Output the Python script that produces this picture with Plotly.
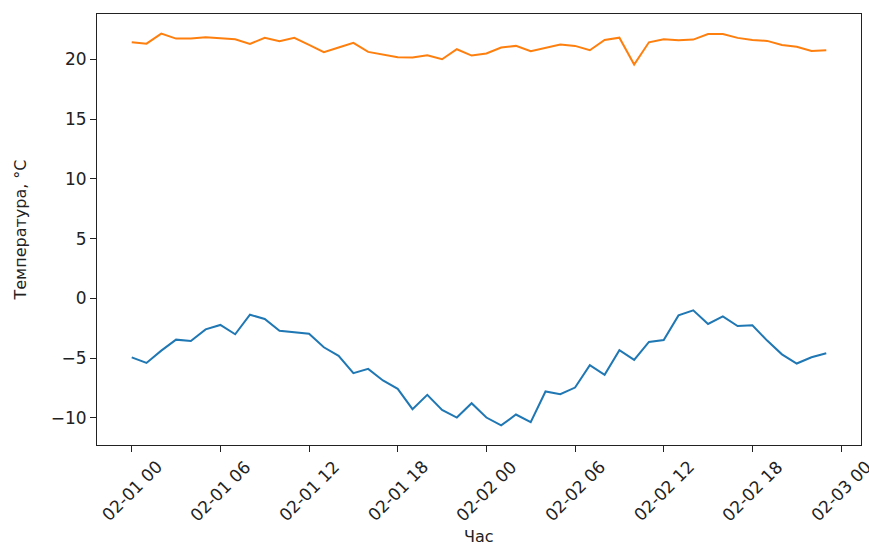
import pandas as pd
import plotly.graph_objects as go

# Hourly timestamps, 1–2 February
hours = pd.date_range("2024-02-01 00:00", periods=48, freq="h")

# Outdoor temperature, °C
outdoor = [-4.93, -5.40, -4.37, -3.45, -3.56, -2.59, -2.22, -3.00, -1.36, -1.72,
           -2.70, -2.84, -2.95, -4.09, -4.81, -6.26, -5.90, -6.87, -7.57, -9.27,
           -8.07, -9.33, -9.97, -8.77, -9.97, -10.63, -9.72, -10.36, -7.79, -8.02,
           -7.46, -5.59, -6.40, -4.34, -5.15, -3.64, -3.48, -1.42, -1.00, -2.14,
           -1.50, -2.31, -2.25, -3.53, -4.68, -5.45, -4.93, -4.59]

# Indoor temperature, °C
indoor = [21.44, 21.33, 22.17, 21.75, 21.75, 21.86, 21.78, 21.70, 21.31, 21.81,
          21.53, 21.81, 21.22, 20.61, 21.00, 21.39, 20.64, 20.41, 20.19, 20.16,
          20.36, 20.02, 20.86, 20.33, 20.50, 21.00, 21.14, 20.69, 21.00, 21.25,
          21.14, 20.78, 21.64, 21.83, 19.58, 21.44, 21.70, 21.61, 21.67, 22.14,
          22.14, 21.81, 21.64, 21.56, 21.22, 21.06, 20.72, 20.78]

# X tick positions and their labels
tick_times = pd.date_range("2024-02-01 00:00", "2024-02-03 00:00", freq="6h")
tick_labels = [t.strftime("%m-%d %H") for t in tick_times]

y_ticks = [-10, -5, 0, 5, 10, 15, 20]

FONT = "DejaVu Sans"
FSIZE = 17
BLUE = "#1f77b4"
ORANGE = "#ff7f0e"

fig = go.Figure()
fig.add_trace(go.Scatter(x=hours, y=outdoor, mode="lines",
                         line=dict(color=BLUE, width=2), showlegend=False))
fig.add_trace(go.Scatter(x=hours, y=indoor, mode="lines",
                         line=dict(color=ORANGE, width=2), showlegend=False))

# 5 % padding on each side, like matplotlib's default margins
span = hours[-1] - hours[0]
pad = span * 0.05
ymin, ymax = min(outdoor + indoor), max(outdoor + indoor)
ypad = (ymax - ymin) * 0.05

axis_common = dict(showline=True, linecolor="#222222", linewidth=1, mirror=True,
                   ticks="outside", ticklen=6, tickwidth=1, tickcolor="#222222",
                   showgrid=False, zeroline=False,
                   tickfont=dict(family=FONT, size=FSIZE, color="#222222"))

fig.update_xaxes(range=[hours[0] - pad, hours[-1] + pad], tickvals=tick_times,
                 showticklabels=False, **axis_common)
fig.update_yaxes(range=[ymin - ypad, ymax + ypad], tickvals=y_ticks,
                 title=dict(text="Температура, °C", standoff=20,
                            font=dict(family=FONT, size=FSIZE - 1, color="#222222")),
                 **axis_common)

# Rotated date labels, centred under each tick
for t, lab in zip(tick_times, tick_labels):
    fig.add_annotation(x=t, xref="x", y=0, yref="paper", yshift=-46,
                       text=lab, textangle=-45, showarrow=False,
                       xanchor="center", yanchor="middle",
                       font=dict(family=FONT, size=FSIZE, color="#222222"))

fig.add_annotation(x=0.5, xref="paper", y=0, yref="paper", yshift=-91,
                   text="Час", showarrow=False, xanchor="center", yanchor="middle",
                   font=dict(family=FONT, size=FSIZE - 1, color="#222222"))

fig.update_layout(width=869, height=545,
                  margin=dict(l=97, r=8, t=14, b=100),
                  paper_bgcolor="white", plot_bgcolor="white",
                  font=dict(family=FONT, size=FSIZE, color="#222222"))

fig.write_html("out.html")
